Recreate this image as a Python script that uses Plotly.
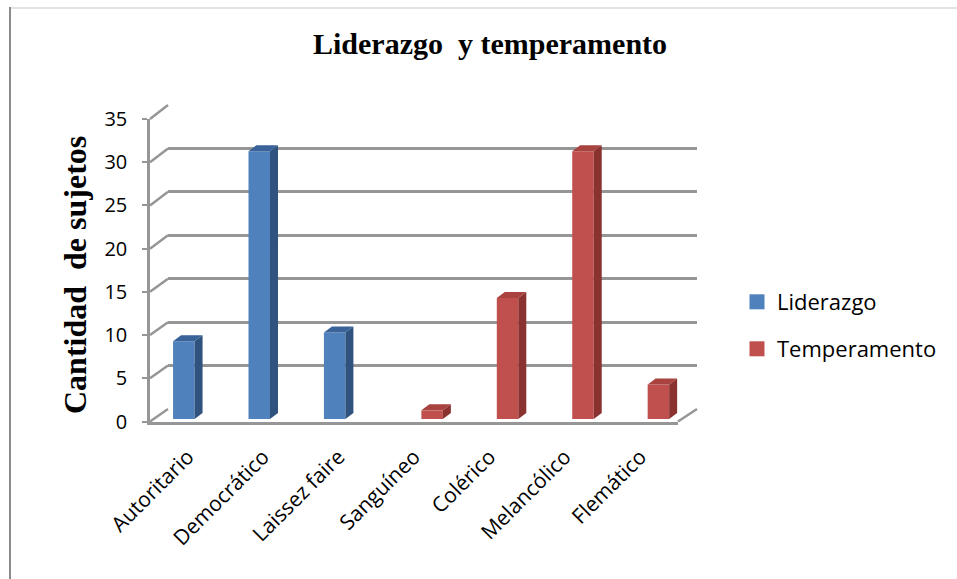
import plotly.graph_objects as go

# ---------------- data ----------------
categories = ["Autoritario", "Democrático", "Laissez faire", "Sanguíneo",
              "Colérico", "Melancólico", "Flemático"]
liderazgo = [9, 31, 10, None, None, None, None]
temperamento = [None, None, None, 1, 14, 31, 4]
y_ticks = [0, 5, 10, 15, 20, 25, 30, 35]
title_text = "Liderazgo\u00a0 y temperamento"
ytitle_text = "Cantidad\u00a0 de sujetos"

# ---------------- geometry (pixels) ----------------
W, H = 957, 579
YMAX = 35


def px(x):
    return x / W


def py(y):
    return 1 - y / H


# front axis (labels)
FX0, FX1, FY0, FY1 = 150, 678, 421.5, 119.0
# back wall (gridlines)
BX0, BX1, BY0, BY1 = 168, 697, 409.0, 105.0
# bar plane
RX0, RX1, RY0, RY1 = 153.6, 681.6, 419.0, 116.6

n = len(categories)
xs = list(range(n))
xr = [-0.5, n - 0.5]

cat_px = (RX1 - RX0) / n
unit_px = (RY0 - RY1) / YMAX
DEPTH_X = 8 / cat_px      # in category units
DEPTH_Y = 6 / unit_px     # in value units

BAR_W = 0.285
OFF_L = -0.242
OFF_T = 0.05

COLORS = {
    "Liderazgo": ("#4F81BD", "#3A6399", "#30527F"),
    "Temperamento": ("#C0504D", "#A8433F", "#8A3230"),
}

fig = go.Figure()

# back wall gridlines subplot (x, y) — drawn first (behind)
fig.add_trace(go.Scatter(x=[None], y=[None], xaxis="x", yaxis="y",
                         showlegend=False, hoverinfo="skip"))
# front axis subplot (x2, y2)
fig.add_trace(go.Scatter(x=[None], y=[None], xaxis="x2", yaxis="y2",
                         showlegend=False, hoverinfo="skip"))


def faces(vals, off):
    sx, sy, tx, ty = [], [], [], []
    for i, v in zip(xs, vals):
        if v is None:
            continue
        l = i + off
        r = l + BAR_W
        # side face
        sx += [r, r + DEPTH_X, r + DEPTH_X, r, r, None]
        sy += [0, DEPTH_Y, v + DEPTH_Y, v, 0, None]
        # top face
        tx += [l, r, r + DEPTH_X, l + DEPTH_X, l, None]
        ty += [v, v, v + DEPTH_Y, v + DEPTH_Y, v, None]
    return sx, sy, tx, ty


FONT = "'Open Sans', sans-serif"

for name, vals, off, leg in [("Liderazgo", liderazgo, OFF_L, "legend"),
                             ("Temperamento", temperamento, OFF_T, "legend2")]:
    front, top, side = COLORS[name]
    fig.add_trace(go.Bar(
        x=xs, y=vals, name=name, width=BAR_W, offset=off,
        marker=dict(color=front, line=dict(width=0)),
        xaxis="x3", yaxis="y3", showlegend=False,
    ))
    sx, sy, tx, ty = faces(vals, off)
    fig.add_trace(go.Scatter(x=sx, y=sy, mode="lines", fill="toself",
                             fillcolor=side, line=dict(width=0, color=side),
                             xaxis="x3", yaxis="y3", showlegend=False,
                             hoverinfo="skip"))
    fig.add_trace(go.Scatter(x=tx, y=ty, mode="lines", fill="toself",
                             fillcolor=top, line=dict(width=0, color=top),
                             xaxis="x3", yaxis="y3", showlegend=False,
                             hoverinfo="skip"))
    # legend entry (square swatch)
    fig.add_trace(go.Scatter(x=[None], y=[None], mode="markers", name=name,
                             marker=dict(symbol="square", size=15, color=front,
                                         line=dict(width=0)),
                             xaxis="x3", yaxis="y3", legend=leg,
                             hoverinfo="skip"))

GRID = "#969696"

layout = dict(
    template="none",
    width=W, height=H,
    margin=dict(l=0, r=0, t=0, b=0, pad=0, autoexpand=False),
    paper_bgcolor="white", plot_bgcolor="rgba(0,0,0,0)",
    barmode="overlay",
    showlegend=True,
    # back wall
    xaxis=dict(domain=[px(BX0), px(BX1)], range=xr, visible=False,
               automargin=False),
    yaxis=dict(domain=[py(BY0), py(BY1)], range=[0, YMAX], anchor="x",
               tickvals=y_ticks, showgrid=True, gridcolor=GRID, gridwidth=2.5,
               showticklabels=False, zeroline=False, showline=False, ticks="",
               automargin=False),
    # front axes with labels
    xaxis2=dict(domain=[px(FX0), px(FX1)], range=xr, anchor="y2",
                tickvals=xs, ticktext=categories, tickangle=-45,
                showgrid=False, zeroline=False, showline=True, linecolor=GRID,
                linewidth=2.5, ticks="", ticklabelstandoff=12, automargin=False,
                tickfont=dict(family=FONT, size=21, color="black")),
    yaxis2=dict(domain=[py(FY0), py(FY1)], range=[0, YMAX], anchor="x2",
                tickvals=y_ticks, showgrid=False, zeroline=False,
                showline=True, linecolor=GRID, linewidth=2.5,
                ticks="outside", ticklen=5, tickwidth=2, tickcolor=GRID,
                ticklabelstandoff=11, automargin=False,
                tickfont=dict(family=FONT, size=20, color="black")),
    # bar plane
    xaxis3=dict(domain=[px(RX0), px(RX1)], range=xr, visible=False,
                anchor="y3", automargin=False),
    yaxis3=dict(domain=[py(RY0), py(RY1)], range=[0, YMAX], visible=False,
                anchor="x3", automargin=False),
    legend=dict(x=px(737), y=py(302), xanchor="left", yanchor="middle",
                bgcolor="rgba(0,0,0,0)", itemsizing="trace",
                font=dict(family=FONT, size=22, color="black")),
    legend2=dict(x=px(737), y=py(349), xanchor="left", yanchor="middle",
                 bgcolor="rgba(0,0,0,0)", itemsizing="trace",
                 font=dict(family=FONT, size=22, color="black")),
)

shapes = []
# side-wall connectors at each tick value (front -> back)
for v in y_ticks:
    yf = FY0 - v * (FY0 - FY1) / YMAX
    yb = BY0 - v * (BY0 - BY1) / YMAX
    shapes.append(dict(type="line", xref="paper", yref="paper",
                       x0=px(FX0), y0=py(yf), x1=px(BX0), y1=py(yb),
                       line=dict(color=GRID, width=2.5), layer="below"))
# floor right edge
shapes.append(dict(type="line", xref="paper", yref="paper",
                   x0=px(FX1), y0=py(FY0), x1=px(BX1), y1=py(BY0),
                   line=dict(color=GRID, width=2.5), layer="below"))
# chart frame
shapes.append(dict(type="line", xref="paper", yref="paper",
                   x0=px(10), y0=py(8), x1=1, y1=py(8),
                   line=dict(color="#e3e3e3", width=2)))
shapes.append(dict(type="line", xref="paper", yref="paper",
                   x0=px(10), y0=py(7), x1=px(10), y1=0,
                   line=dict(color="#8a8a8a", width=2)))
layout["shapes"] = shapes

layout["annotations"] = [
    dict(text=f"<b>{title_text}</b>", xref="paper", yref="paper",
         x=px(489.5), y=py(44), xanchor="center", yanchor="middle",
         showarrow=False,
         font=dict(family="Liberation Serif, 'Times New Roman', serif",
                   size=30, color="black")),
    dict(text=f"<b>{ytitle_text}</b>", xref="paper", yref="paper",
         x=px(75), y=py(275), xanchor="center", yanchor="middle",
         textangle=-90, showarrow=False,
         font=dict(family="Liberation Serif, 'Times New Roman', serif",
                   size=32, color="black")),
]

fig.update_layout(**layout)
fig.write_html("out.html")
